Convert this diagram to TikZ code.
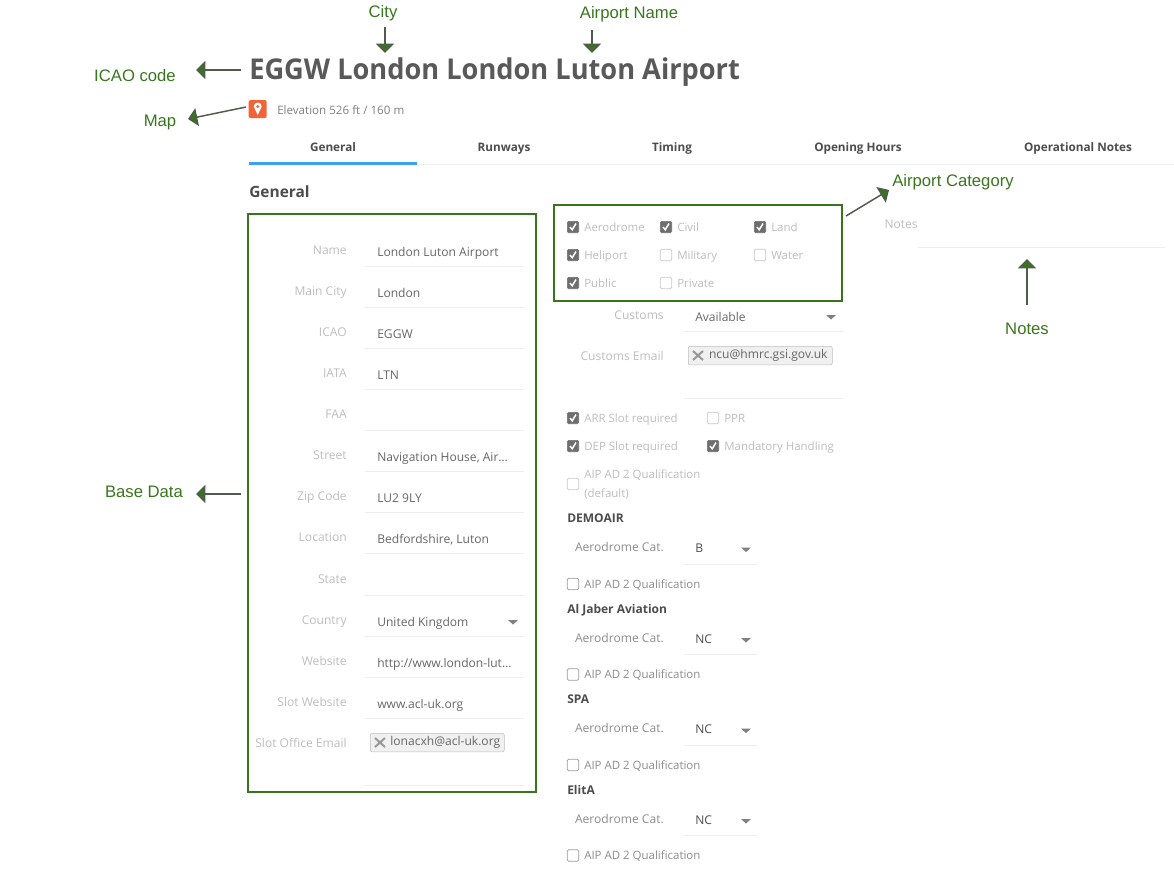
\documentclass[tikz,border=0pt]{standalone}
\usepackage{fontspec}
\usepackage{tikz}
\usetikzlibrary{arrows.meta}
\setmainfont{Open Sans}
\newfontfamily\notefont{Liberation Sans}
\newfontfamily\semifont[FakeStretch=0.949]{Open Sans}
\definecolor{notegreen}{HTML}{38761D}
\definecolor{arrowgrey}{HTML}{4F5B4C}
\definecolor{labelgrey}{HTML}{BDBDBD}
\definecolor{darklabel}{HTML}{8C8C8C}
\definecolor{valuegrey}{HTML}{666666}
\definecolor{rulegrey}{HTML}{EEEEEE}
\definecolor{boxgrey}{HTML}{6E6E6E}
\definecolor{mapred}{HTML}{F2633A}
\definecolor{tabblue}{HTML}{3FA0F0}
\tikzset{
    note/.style={font=\notefont\fontsize{12.5}{12}\selectfont, text=notegreen, inner sep=0pt, text height=9pt, text depth=0pt},
    notearrow/.style={arrowgrey, line width=1.1pt, -{Triangle[width=13.5pt,length=7pt,fill=notegreen]}},
    notebox/.style={draw=notegreen, line width=1.3pt, anchor=north west, inner sep=0pt},
    fieldname/.style={anchor=east, inner sep=0pt, text=labelgrey, text height=6pt, text depth=0pt, font=\fontsize{9.05}{10}\selectfont},
    fieldvalue/.style={anchor=west, inner sep=0pt, text=valuegrey, text height=6pt, text depth=0pt, font=\fontsize{9.05}{10}\selectfont},
    ticktext/.style={fieldvalue, text=labelgrey, font=\fontsize{8.6}{10}\selectfont},
    fieldrule/.style={rulegrey, line width=0.6pt},
    tabname/.style={inner sep=0pt, text=black!70, text height=6pt, text depth=0pt, font=\fontsize{8.8}{10}\selectfont\bfseries},
    subhead/.style={anchor=west, inner sep=0pt, text=black!70, text height=6pt, text depth=0pt, font=\fontsize{9}{10}\selectfont\bfseries},
    checkon/.style={draw=boxgrey, fill=boxgrey, rounded corners=1pt, minimum size=8.6pt, inner sep=0pt},
    checkoff/.style={draw=black!22, line width=0.6pt, rounded corners=1pt, minimum size=8.6pt, inner sep=0pt},
    tagbox/.style={anchor=north west, draw=black!25, fill=black!6, rounded corners=1.5pt, inner sep=0pt, minimum height=14pt, text=valuegrey, font=\fontsize{9.05}{10}\selectfont},
    tagcross/.style={black!40, line width=1.5pt},
}
% one tick box with its text: x, y, name, text
\newcommand{\tickon}[4]{
    \node[checkon] (#3) at (#1,#2) {};
    \draw[white, line width=1.1pt] (#1-3,#2) -- (#1-0.8,#2+2.8) -- (#1+3,#2-3.5);
    \node[ticktext] (#3t) at (#1+11,#2) {#4};
}
\newcommand{\tickoff}[4]{
    \node[checkoff] (#3) at (#1,#2) {};
    \node[ticktext] (#3t) at (#1+11,#2) {#4};
}
% small drop down triangle
\newcommand{\droparrow}[2]{
    \fill[black!50] (#1-5,#2-2) -- (#1+5,#2-2) -- (#1,#2+2.5) -- cycle;
}

\begin{document}
\begin{tikzpicture}[x=0.75pt, y=-0.75pt]
    \useasboundingbox (0,0) rectangle (1174,875);

    % heading
    \node[anchor=west, inner sep=0pt, text=black!65, text height=15.5pt, text depth=0pt, font=\semifont\fontsize{21.5}{24}\selectfont\bfseries] (title) at (249,69) {EGGW London London Luton Airport};
    \node[fill=mapred, rounded corners=1.5pt, minimum size=13.5pt, inner sep=0pt] (mapicon) at (257.7,109) {};
    \fill[white] (257.7,115) -- (253.7,106.5) arc (180:360:4) -- cycle;
    \fill[mapred] (257.7,106.5) circle (1.6);
    \node[fieldvalue, text=black!50, font=\fontsize{8.7}{10}\selectfont] (elev) at (277,110) {Elevation 526 ft / 160 m};

    % tabs
    \node[tabname] (tabA) at (333,147) {General};
    \node[tabname] (tabB) at (504,147) {Runways};
    \node[tabname] (tabC) at (672,147) {Timing};
    \node[tabname] (tabD) at (858,147) {Opening Hours};
    \node[tabname] (tabE) at (1078,147) {Operational Notes};
    \draw[fieldrule] (249,164.5) -- (1174,164.5);
    \draw[tabblue, line width=2pt] (249,163.5) -- (417,163.5);
    \node[subhead, text height=8pt, font=\fontsize{11.6}{12}\selectfont\bfseries] (general) at (249,192.5) {General};

    % base data column
    \foreach \y/\n/\t/\v in {251/a/Name/London Luton Airport, 292/b/Main City/London, 333/c/ICAO/EGGW, 374/d/IATA/LTN, 415/e/FAA/, 456/f/Street/{Navigation House, Air…}, 497/g/Zip Code/LU2 9LY, 538/h/Location/{Bedfordshire, Luton}, 579.5/i/State/, 620.5/j/Country/United Kingdom, 661.5/k/Website/{http://www.london-lut…}, 703/l/Slot Website/www.acl-uk.org}{
        \node[fieldname] (name\n) at (347,\y-0.5) {\t};
        \node[fieldvalue] (value\n) at (377,\y+1.5) {\v};
        \draw[fieldrule] (365,\y+15.5) -- (524,\y+15.5);
    }
    \node[fieldname] (namem) at (347,743.5) {Slot Office Email};
    \node[tagbox, minimum width=100.5pt] (valuem) at (370,733) {\hspace*{12pt}\raisebox{-1.4pt}{lonacxh@acl-uk.org}\hfill};
    \draw[tagcross] (375,738) -- (385,747) (385,738) -- (375,747);
    \draw[fieldrule] (365,785) -- (524,785);
    \droparrow{513}{622}

    % airport category
    \tickon{573}{227}{aero}{Aerodrome}
    \tickon{666}{227}{civil}{Civil}
    \tickon{760}{227}{land}{Land}
    \tickon{573}{255}{heli}{Heliport}
    \tickoff{666}{255}{mil}{Military}
    \tickoff{760}{255}{water}{Water}
    \tickon{573}{283}{public}{Public}
    \tickoff{666}{283}{priv}{Private}

    % customs
    \node[fieldname] (customs) at (664,315.5) {Customs};
    \node[fieldvalue] (customsv) at (695,317.5) {Available};
    \droparrow{831}{317}
    \draw[fieldrule] (684,331.5) -- (843,331.5);
    \node[fieldname] (cmail) at (664,356.5) {Customs Email};
    \node[tagbox, minimum width=108pt] (cmailv) at (688,346) {\hspace*{12pt}\raisebox{-1.4pt}{ncu@hmrc.gsi.gov.uk}\hfill};
    \draw[tagcross] (693,351) -- (703,360) (703,351) -- (693,360);
    \draw[fieldrule] (684,398.5) -- (843,398.5);

    % slots
    \tickon{573}{418}{arr}{ARR Slot required}
    \tickoff{713}{418}{ppr}{PPR}
    \tickon{573}{446}{dep}{DEP Slot required}
    \tickon{713}{446}{mand}{Mandatory Handling}
    \tickoff{573}{484}{aipz}{}
    \node[ticktext] (aipa) at (584,474.5) {AIP AD 2 Qualification};
    \node[ticktext] (aipb) at (584,493) {(default)};

    % operators
    \foreach \y/\n/\t/\v in {518/p/DEMOAIR/B, 608.5/q/Al Jaber Aviation/NC, 699/r/SPA/NC, 789.5/s/ElitA/NC}{
        \node[subhead] (head\n) at (567,\y+0.5) {\t};
        \node[fieldname, text=darklabel] (cat\n) at (664,\y+29.5) {Aerodrome Cat.};
        \node[fieldvalue, text=black!70] (catv\n) at (695,\y+30.5) {\v};
        \droparrow{746}{\y+31.5}
        \draw[fieldrule] (684,\y+46) -- (758,\y+46);
        \node[checkoff, draw=black!40] (aip\n) at (573,\y+66) {};
        \node[ticktext, text=darklabel] (aipt\n) at (584,\y+66) {AIP AD 2 Qualification};
    }

    % notes field
    \node[fieldname] (notes) at (918,224) {Notes};
    \draw[fieldrule] (918,247.5) -- (1165,247.5);

    % green boxes
    \node[notebox, minimum width=216pt, minimum height=433.5pt] (basebox) at (247,213) {};
    \node[notebox, minimum width=216pt, minimum height=72pt] (catbox) at (553,204) {};

    % annotations
    \node[note] (cityn) at (383,11) {City};
    \node[note] (namen) at (629,12) {Airport Name};
    \node[note] (icaon) at (135,75) {ICAO code};
    \node[note] (mapn) at (160,120) {Map};
    \node[note] (basen) at (144,491) {Base Data};
    \node[note] (catn) at (953,180) {Airport Category};
    \node[note] (notesn) at (1027,328) {Notes};

    \coordinate (cityfrom) at (385,27);
    \coordinate (cityto) at (385,53);
    \coordinate (namefrom) at (592,30);
    \coordinate (nameto) at (592,53);
    \coordinate (icaofrom) at (241,70);
    \coordinate (icaoto) at (196,70);
    \coordinate (mapto) at (188,119);
    \coordinate (basefrom) at (241,494);
    \coordinate (baseto) at (196,494);
    \coordinate (catfrom) at (846,216);
    \coordinate (catto) at (889,190);
    \coordinate (notesfrom) at (1027,305);
    \coordinate (notesto) at (1027,259);

    \draw[notearrow] (cityfrom) -- (cityto);
    \draw[notearrow] (namefrom) -- (nameto);
    \draw[notearrow] (icaofrom) -- (icaoto);
    \draw[notearrow, shorten <=2pt] (mapicon.165) -- (mapto);
    \draw[notearrow] (basefrom) -- (baseto);
    \draw[notearrow] (catfrom) -- (catto);
    \draw[notearrow] (notesfrom) -- (notesto);
\end{tikzpicture}
\end{document}
